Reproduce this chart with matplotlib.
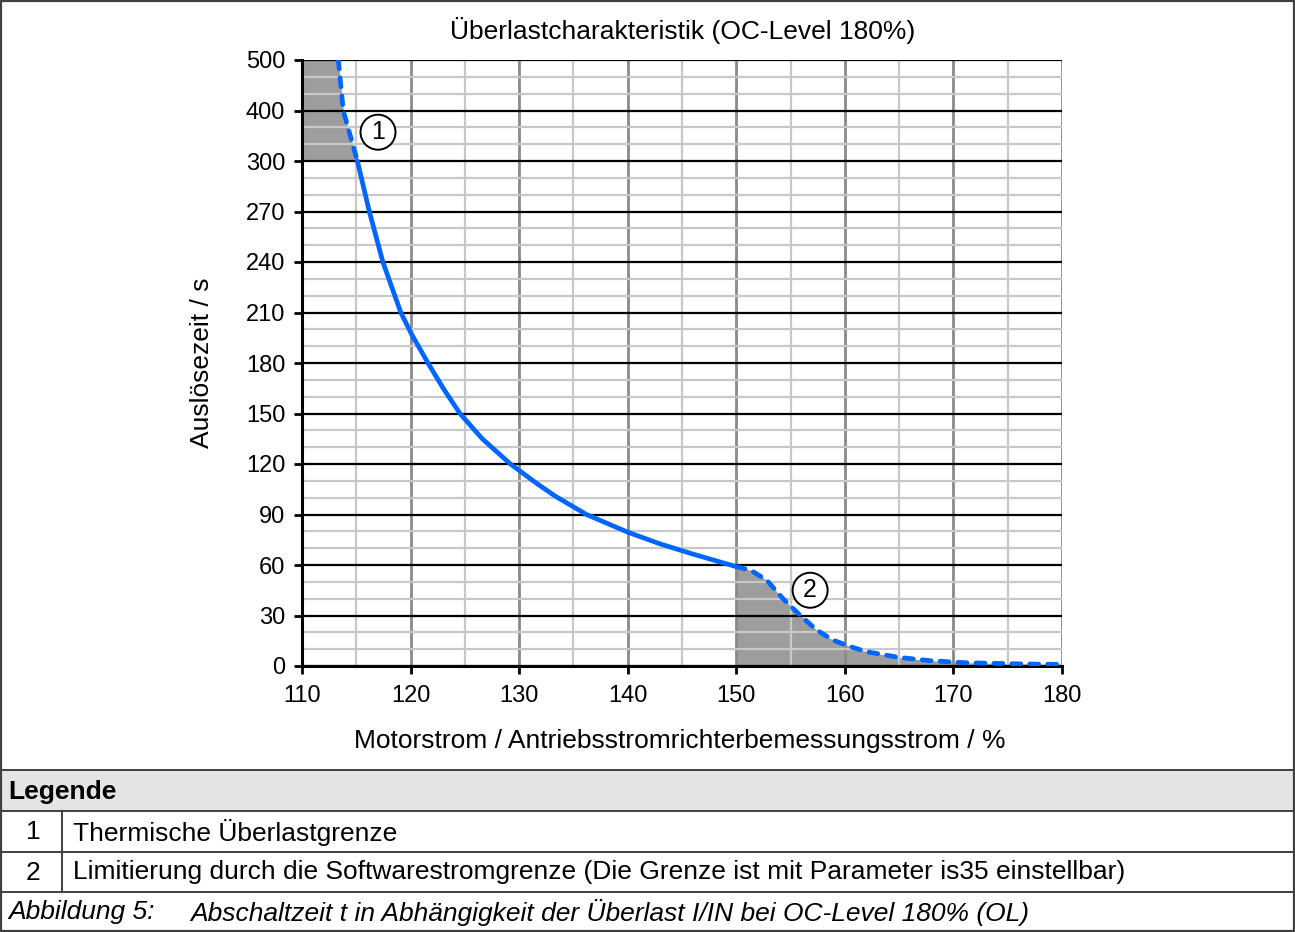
import numpy as np
import matplotlib
matplotlib.use("Agg")
import matplotlib.pyplot as plt
from matplotlib.lines import Line2D
from matplotlib.patches import Rectangle

plt.rcParams['font.family'] = ['Liberation Sans', 'DejaVu Sans']

# ---------------- data ----------------
title = "Überlastcharakteristik (OC-Level 180%)"
x_label = "Motorstrom / Antriebsstromrichterbemessungsstrom / %"
y_label = "Auslösezeit / s"

x_ticks = [110, 120, 130, 140, 150, 160, 170, 180]
y_ticks = [0, 30, 60, 90, 120, 150, 180, 210, 240, 270, 300, 400, 500]

# dashed part 1 (thermal limit, region 1)
top_x = [113.35, 113.8, 114.45, 115.1]
top_y = [500, 400, 350, 300]

# solid characteristic
solid_x = [115.1, 116.2, 117.45, 119.1, 120.1, 121.6, 123.1, 124.55,
           126.6, 129.2, 131.5, 133.3, 136.2, 140.0, 143.0, 146.0, 150.0]
solid_y = [300, 270, 240, 210, 197, 180, 164, 150,
           135, 120, 109, 101, 90, 79.5, 72.5, 66.5, 59]

# dashed part 2 (software current limit, region 2)
bot_x = [150.0, 151.3, 152.8, 154.3, 155.9, 157.4, 158.9, 160.5, 162.0,
         165.0, 167.8, 170.9, 173.6, 176.4, 179.6, 180.0]
bot_y = [59, 57, 51, 40, 30, 21.4, 15.4, 11.5, 8.5,
         5.1, 3.2, 2.0, 1.6, 1.2, 1.0, 1.0]

legend_title = "Legende"
legend_nums = ["1", "2"]
legend_texts = ["Thermische Überlastgrenze",
                "Limitierung durch die Softwarestromgrenze (Die Grenze ist mit Parameter is35 einstellbar)"]
caption_a = "Abbildung 5:"
caption_b = "Abschaltzeit t in Abhängigkeit der Überlast I/IN bei OC-Level 180% (OL)"

# ---------------- figure ----------------
W, H = 1295, 932
fig = plt.figure(figsize=(W / 100, H / 100), dpi=100)


def fx(px):
    return px / W


def fy(py):
    return 1 - py / H


ax = fig.add_axes([fx(302), fy(666), fx(1062) - fx(302), (666 - 60) / H])


def fwd(y):
    y = np.asarray(y, dtype=float)
    return np.where(y <= 300, y / 30.0, 10 + (y - 300) / 100.0)


def inv(u):
    u = np.asarray(u, dtype=float)
    return np.where(u <= 10, u * 30.0, 300 + (u - 10) * 100.0)


ax.set_yscale('function', functions=(fwd, inv))
ax.set_xlim(110, 180)
ax.set_ylim(0, 500)

blue = '#0066ff'
gray_fill = '#9d9d9d'

ax.fill_betweenx(top_y, 110, top_x, color=gray_fill, lw=0, zorder=0.2)
ax.fill_between(bot_x, 0, bot_y, color=gray_fill, lw=0, zorder=0.2)

ax.plot(solid_x, solid_y, color=blue, lw=3.4, solid_capstyle='round',
        solid_joinstyle='round', zorder=3)
ax.plot(top_x, top_y, color=blue, lw=3.4, linestyle=(0, (1.9, 1.9)),
        dash_capstyle='round', zorder=3)
ax.plot(bot_x, bot_y, color=blue, lw=3.4, linestyle=(0, (1.9, 1.9)),
        dash_capstyle='round', zorder=3)

# ticks and grid
ax.set_xticks(x_ticks)
ax.set_xticklabels([str(v) for v in x_ticks])
ax.set_xticks([v + 5 for v in x_ticks[:-1]], minor=True)
ax.set_yticks(y_ticks)
ax.set_yticklabels([str(v) for v in y_ticks])
y_minor = []
for a, b in zip(y_ticks[:-1], y_ticks[1:]):
    y_minor += [a + (b - a) / 3, a + 2 * (b - a) / 3]
ax.set_yticks(y_minor, minor=True)

ax.set_axisbelow(True)
ax.grid(True, which='major', axis='x', color='#8a8a8a', lw=2.0)
ax.grid(True, which='minor', axis='x', color='#c8c8c8', lw=1.6)
ax.grid(True, which='major', axis='y', color='black', lw=1.6)
ax.grid(True, which='minor', axis='y', color='#c8c8c8', lw=1.6)

ax.tick_params(which='major', direction='out', length=6, width=2.0,
               color='black', labelsize=17, pad=6)
ax.tick_params(which='minor', length=0)
ax.tick_params(axis='x', pad=8)

for s in ['top', 'right']:
    ax.spines[s].set_visible(False)
ax.spines['left'].set_linewidth(2.2)
ax.spines['bottom'].set_linewidth(2.2)

ax.set_xlabel(x_label, fontsize=19)
ax.set_ylabel(y_label, fontsize=19)
ax.xaxis.set_label_coords((680 - 302) / 760, (666 - 741) / 606)
ax.xaxis.label.set_va('center')
ax.yaxis.set_label_coords((202 - 302) / 760, (666 - 363) / 606)
ax.yaxis.label.set_va('center')

# circled markers
circ = dict(boxstyle='circle,pad=0.22', fc='white', ec='black', lw=1.4)
ax.text(117.0, 357, '1', fontsize=18, ha='center', va='center', bbox=circ, zorder=4)
ax.text(156.8, 45, '2', fontsize=18, ha='center', va='center', bbox=circ, zorder=4)

# title
fig.text(fx(683), fy(30), title, fontsize=19, ha='center', va='center')

# ---------------- table / border ----------------
edge = '#404040'
fig.add_artist(Rectangle((fx(0), fy(811)), fx(1295), (811 - 770) / H,
                         transform=fig.transFigure, fc='#e4e4e4', ec='none', zorder=0))
for yy in [770, 811, 851.5, 892]:
    fig.add_artist(Line2D([fx(0), fx(1295)], [fy(yy), fy(yy)],
                          transform=fig.transFigure, color=edge, lw=1.4))
fig.add_artist(Line2D([fx(62), fx(62)], [fy(811), fy(892)],
                      transform=fig.transFigure, color=edge, lw=1.4))
# outer border
fig.add_artist(Rectangle((fx(1), fy(931)), fx(1293), (930) / H,
                         transform=fig.transFigure, fill=False, ec=edge, lw=1.6))

fig.text(fx(8), fy(792), legend_title, fontsize=19, fontweight='bold', ha='left', va='center')
for i, (n, t) in enumerate(zip(legend_nums, legend_texts)):
    yc = 832 + 40.5 * i
    fig.text(fx(33), fy(yc), n, fontsize=19, ha='center', va='center')
    fig.text(fx(73), fy(yc), t, fontsize=19, ha='left', va='center')
fig.text(fx(8), fy(912), caption_a, fontsize=19, style='italic', ha='left', va='center')
fig.text(fx(190), fy(912), caption_b, fontsize=19, style='italic', ha='left', va='center')

fig.savefig('out.png', dpi=100)
